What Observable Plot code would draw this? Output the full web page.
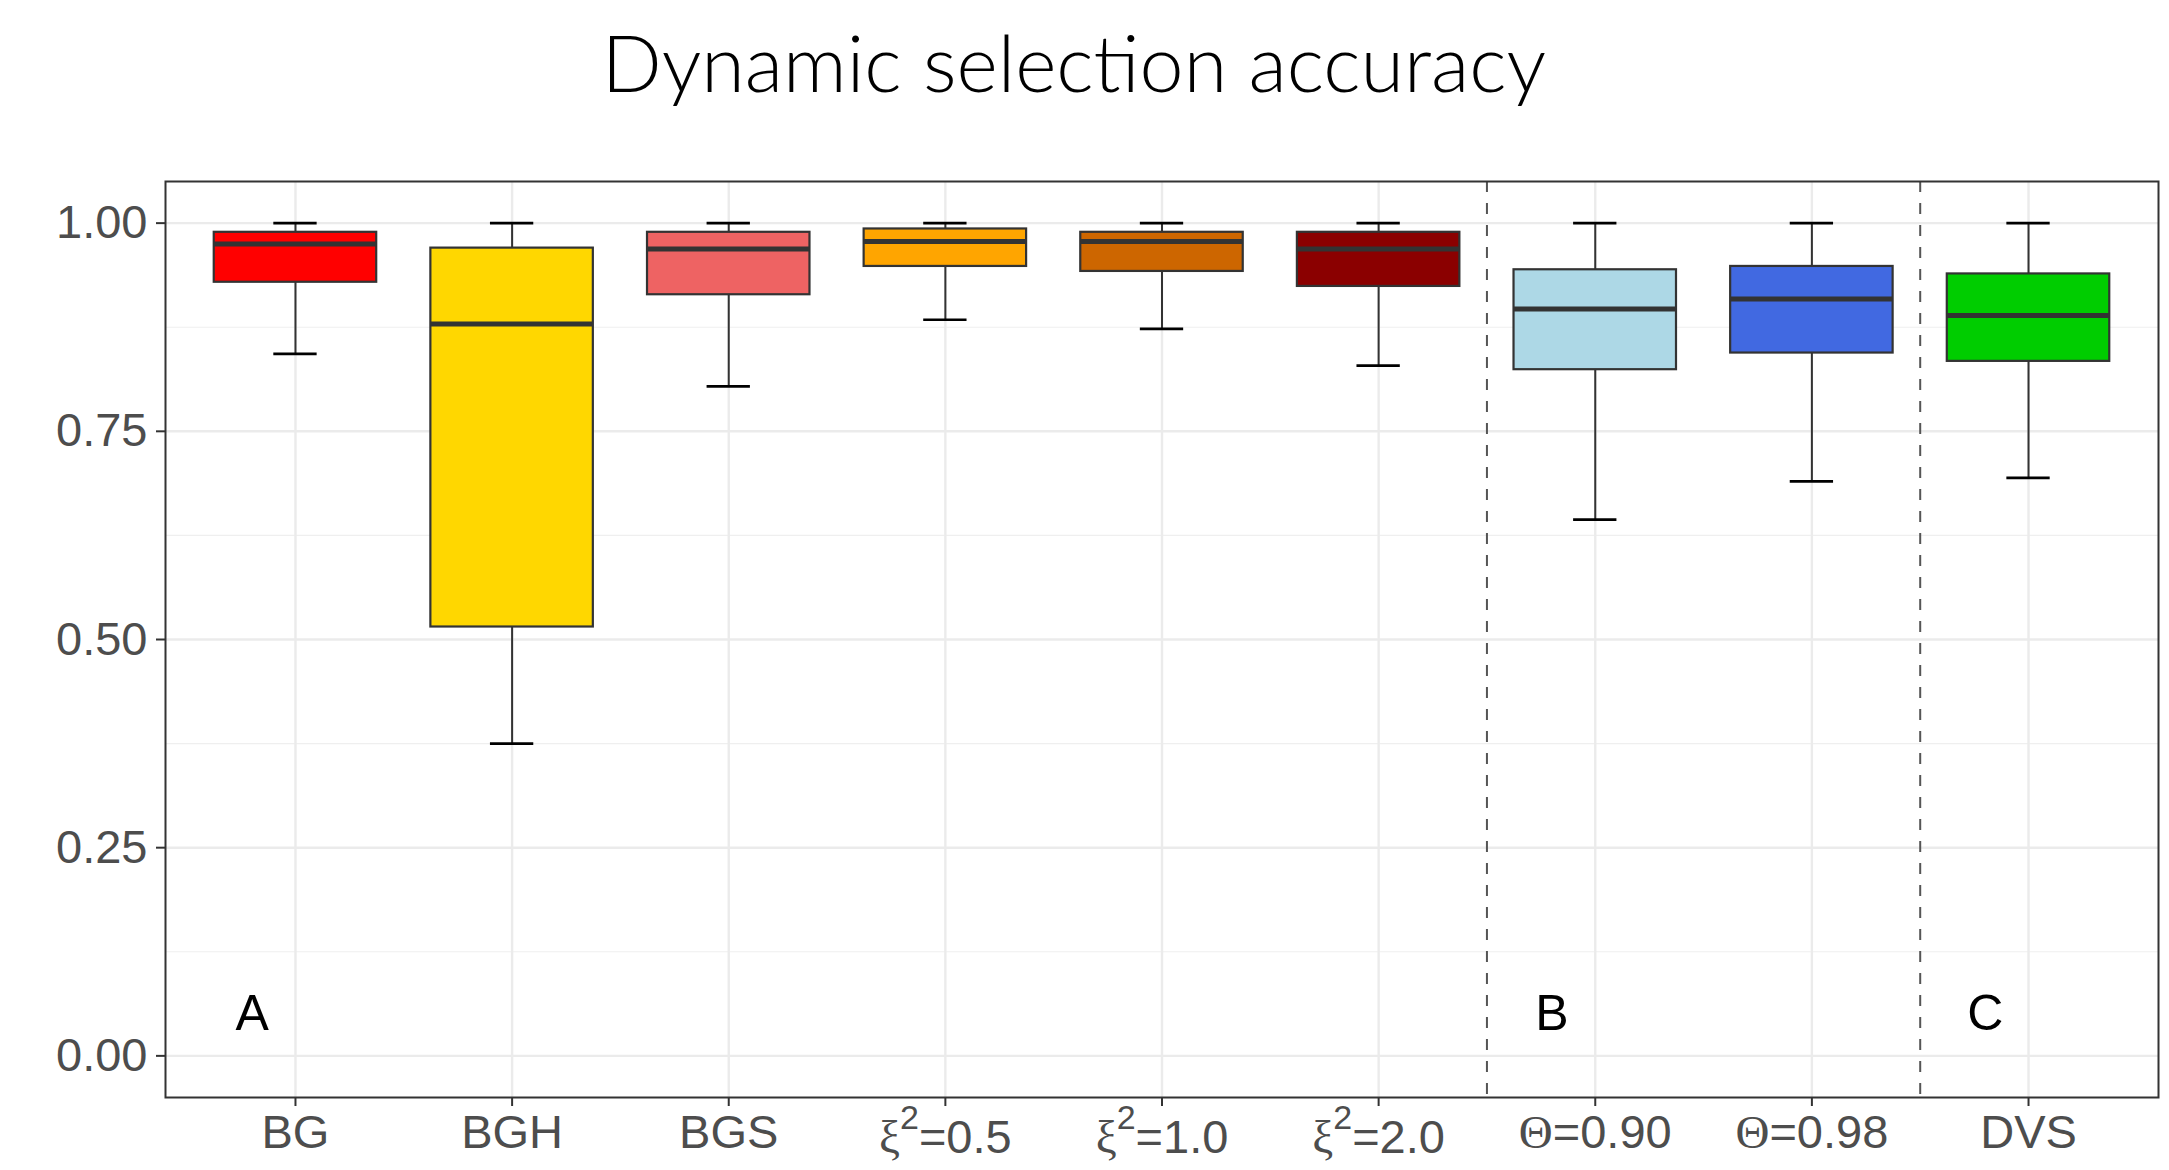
<!DOCTYPE html>
<html><head><meta charset="utf-8">
<script src="https://cdn.jsdelivr.net/npm/d3@7"></script>
<script src="https://cdn.jsdelivr.net/npm/@observablehq/plot@0.6"></script>
<style>
html,body{margin:0;padding:0;background:#fff;}
#wrap{position:relative;width:2169px;height:1170px;}
#title{position:absolute;left:0;top:0;width:2169px;height:140px;}
#title span{position:absolute;left:1074px;top:22px;transform:translateX(-50%);font-family:Lato,"Open Sans",sans-serif;font-weight:300;font-size:79px;line-height:79px;white-space:nowrap;color:#000;}
#chart{position:absolute;left:0;top:140px;}
</style></head><body>
<div id="wrap"><div id="title"><span>Dynamic selection accuracy</span></div><div id="chart"></div></div>
<script>
const categories = ["BG","BGH","BGS","ξ²=0.5","ξ²=1.0","ξ²=2.0","Θ=0.90","Θ=0.98","DVS"];
const whiskerLow  = [0.843,0.375,0.804,0.884,0.873,0.829,0.644,0.690,0.694];
const q1          = [0.929,0.515,0.914,0.948,0.942,0.924,0.824,0.844,0.834];
const median      = [0.975,0.879,0.969,0.978,0.978,0.969,0.897,0.909,0.889];
const q3          = [0.989,0.970,0.989,0.993,0.989,0.989,0.944,0.948,0.939];
const whiskerHigh = [1,1,1,1,1,1,1,1,1];
const fills = ["#FF0000","#FFD700","#EE6363","#FFA500","#CD6600","#8B0000","#ADD8E6","#4169E1","#00CD00"];
const yTicks = [0,0.25,0.5,0.75,1];
const yMinor = [0.125,0.375,0.625,0.875];
const separatorsBefore = ["Θ=0.90","DVS"];
const panelLabelCats = ["BG","Θ=0.90","DVS"];
const panelLabels = ["A","B","C"];
const panelLabelY = 0.05;

const data = categories.map((cat,i)=>({cat, lo:whiskerLow[i], q1:q1[i], med:median[i], q3:q3[i], hi:whiskerHigh[i]}));

const W = 2169, H = 1030, mL = 165, mR = 11, mT = 41, mB = 73;
const pIn = 0.25, pOut = 0.225;
const step = (W - mL - mR) / (categories.length - pIn + 2*pOut);
const bw = (1 - pIn) * step, capW = 0.2 * step, capInset = (bw - capW) / 2;
const axisFont = 47;

const chart = Plot.plot({
  width: W, height: H, marginLeft: mL, marginRight: mR, marginTop: mT, marginBottom: mB,
  style: {fontFamily: "'Liberation Sans', Arial, sans-serif", background: "white"},
  x: {type: "band", domain: categories, paddingInner: pIn, paddingOuter: pOut, align: 0.5, round: false, label: null},
  y: {domain: [-0.05, 1.05], label: null},
  color: {domain: categories, range: fills},
  marks: [
    Plot.ruleY(yMinor, {stroke: "#EFEFEF", strokeWidth: 1.2}),
    Plot.ruleY(yTicks, {stroke: "#EBEBEB", strokeWidth: 2.4}),
    Plot.ruleX(categories, {stroke: "#EBEBEB", strokeWidth: 2.4}),
    Plot.ruleX(separatorsBefore, {dx: -step/2, stroke: "#555", strokeWidth: 2, strokeDasharray: "11,11"}),
    Plot.ruleX(data, {x: "cat", y1: "lo", y2: "hi", stroke: "#333", strokeWidth: 2}),
    Plot.tickY(data, {x: "cat", y: "hi", stroke: "#000", strokeWidth: 2.7, inset: capInset}),
    Plot.tickY(data, {x: "cat", y: "lo", stroke: "#000", strokeWidth: 2.7, inset: capInset}),
    Plot.barY(data, {x: "cat", y1: "q1", y2: "q3", fill: "cat", stroke: "#333", strokeWidth: 2.2}),
    Plot.tickY(data, {x: "cat", y: "med", stroke: "#333", strokeWidth: 5}),
    Plot.text(panelLabels, {x: (d,i) => panelLabelCats[i], y: () => panelLabelY, text: d => d, dx: -0.2*step, fontSize: 50, fill: "#000", lineAnchor: "middle"}),
    Plot.frame({stroke: "#333", strokeWidth: 2}),
    Plot.axisX({tickSize: 9, tickPadding: 8, fontSize: axisFont, stroke: "#333", strokeWidth: 2, fill: "#4D4D4D", label: null}),
    Plot.axisY({ticks: yTicks, tickFormat: d3.format(".2f"), tickSize: 9, tickPadding: 9, fontSize: axisFont, stroke: "#333", strokeWidth: 2, fill: "#4D4D4D", label: null})
  ]
});

// Typeset the Greek tick labels like plotmath: serif symbol, raised superscript
const NS = "http://www.w3.org/2000/svg";
function tspan(parent, txt, attrs) {
  const s = document.createElementNS(NS, "tspan");
  s.textContent = txt;
  for (const k in attrs) s.setAttribute(k, attrs[k]);
  parent.appendChild(s);
}
chart.querySelectorAll('g[aria-label="x-axis tick label"] text').forEach(t => {
  const s = t.textContent;
  if (s.startsWith("ξ²")) {
    t.textContent = "";
    tspan(t, "ξ", {"font-family": "'Liberation Serif', serif"});
    tspan(t, "2", {"dy": "-24", "font-size": Math.round(axisFont*0.72)});
    tspan(t, s.slice(2), {"dy": "24"});
    const tr = t.getAttribute("transform") || "";
    t.setAttribute("transform", tr + " translate(0,5)");
  } else if (s.startsWith("Θ")) {
    t.textContent = "";
    tspan(t, "Θ", {"font-family": "'Liberation Serif', serif"});
    tspan(t, s.slice(1), {});
  }
});
document.getElementById("chart").appendChild(chart);
</script>
</body></html>
